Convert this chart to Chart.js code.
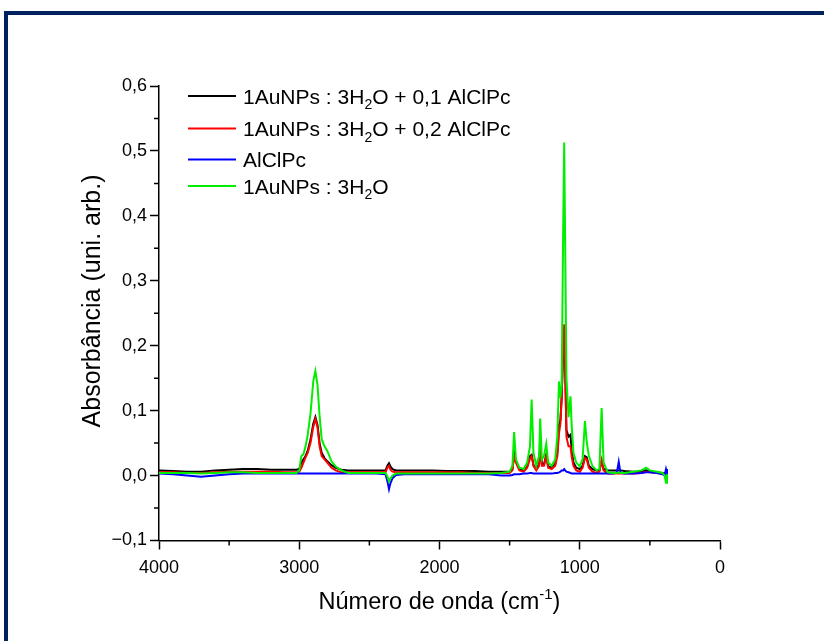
<!DOCTYPE html>
<html>
<head>
  <meta charset="utf-8" />
  <title>Espectro FTIR - AuNPs e AlClPc</title>
  <style>
    body {
      margin: 0;
      background: #fff;
    }
    #wrap {
      position: relative;
      width: 824px;
      height: 641px;
      overflow: hidden;
    }
    #frame {
      position: absolute;
      left: 4px;
      top: 11px;
      width: 900px;
      height: 700px;
      border-top: 4px solid #002060;
      border-left: 4px solid #002060;
    }
    #chart {
      position: absolute;
      left: 0;
      top: 0;
    }
  </style>
</head>
<body>
  <div id="wrap">
    <div id="frame"></div>
    <canvas id="chart" width="824" height="641"></canvas>
  </div>

  <script src="https://cdn.jsdelivr.net/npm/chart.js"></script>
  <script>
    const FONT = '"Liberation Sans", Arial, sans-serif';

    // wavenumber grid (cm-1), shared by all four spectra
    const waveNumber = [
      4000, 3900, 3800, 3700, 3600, 3500, 3400, 3300, 3200, 3100,
      3020, 3000, 2985, 2970, 2955, 2940, 2920, 2900, 2885, 2870,
      2855, 2840, 2820, 2800, 2770, 2740, 2700, 2650, 2550, 2450,
      2385, 2370, 2360, 2350, 2335, 2310, 2250, 2150, 2050, 1950,
      1850, 1750, 1650, 1560, 1500, 1480, 1468, 1455, 1430, 1400,
      1375, 1355, 1343, 1330, 1310, 1290, 1282, 1270, 1255, 1239,
      1225, 1200, 1175, 1160, 1148, 1138, 1129, 1118, 1111, 1104,
      1095, 1080, 1066, 1058, 1045, 1025, 1000, 980, 963, 950,
      935, 910, 880, 860, 844, 830, 800, 760, 735, 722,
      710, 680, 620, 560, 527, 500, 450, 410, 395, 385,
      378
    ];

    // 1AuNPs : 3H2O + 0,1 AlClPc
    const absBlack = [
      0.008, 0.007, 0.006, 0.006, 0.008, 0.009, 0.010, 0.010, 0.009, 0.009,
      0.009, 0.010, 0.020, 0.025, 0.030, 0.038, 0.055, 0.080, 0.090, 0.078,
      0.050, 0.035, 0.027, 0.022, 0.016, 0.012, 0.009, 0.008, 0.008, 0.008,
      0.008, 0.016, 0.019, 0.014, 0.010, 0.008, 0.008, 0.008, 0.008, 0.007,
      0.007, 0.007, 0.006, 0.006, 0.006, 0.010, 0.035, 0.022, 0.010, 0.008,
      0.014, 0.030, 0.032, 0.016, 0.010, 0.018, 0.045, 0.018, 0.017, 0.032,
      0.014, 0.012, 0.018, 0.035, 0.078, 0.085, 0.120, 0.195, 0.225, 0.165,
      0.070, 0.060, 0.063, 0.040, 0.020, 0.012, 0.010, 0.015, 0.030, 0.028,
      0.015, 0.010, 0.008, 0.008, 0.022, 0.010, 0.008, 0.008, 0.008, 0.008,
      0.008, 0.007, 0.006, 0.006, 0.008, 0.006, 0.005, 0.004, 0.004, 0.003,
      0.003
    ];

    // 1AuNPs : 3H2O + 0,2 AlClPc
    const absRed = [
      0.005, 0.005, 0.004, 0.004, 0.005, 0.006, 0.006, 0.006, 0.006, 0.005,
      0.005, 0.006, 0.012, 0.020, 0.028, 0.035, 0.050, 0.075, 0.087, 0.075,
      0.045, 0.030, 0.025, 0.020, 0.012, 0.008, 0.005, 0.005, 0.005, 0.005,
      0.005, 0.013, 0.015, 0.009, 0.006, 0.005, 0.005, 0.005, 0.005, 0.005,
      0.005, 0.004, 0.004, 0.004, 0.004, 0.008, 0.030, 0.020, 0.008, 0.006,
      0.012, 0.026, 0.030, 0.015, 0.008, 0.015, 0.045, 0.015, 0.015, 0.030,
      0.012, 0.010, 0.015, 0.030, 0.065, 0.080, 0.120, 0.200, 0.233, 0.170,
      0.060, 0.045, 0.045, 0.030, 0.015, 0.008, 0.006, 0.012, 0.027, 0.025,
      0.012, 0.006, 0.004, 0.006, 0.024, 0.008, 0.003, 0.003, 0.003, 0.003,
      0.003, 0.003, 0.003, 0.004, 0.006, 0.005, 0.004, 0.003, 0.003, 0.003,
      0.003
    ];

    // AlClPc
    const absBlue = [
      0.003, 0.002, 0.000, -0.002, 0.000, 0.002, 0.003, 0.003, 0.003, 0.003,
      0.003, 0.003, 0.003, 0.003, 0.003, 0.003, 0.003, 0.003, 0.003, 0.003,
      0.003, 0.003, 0.003, 0.003, 0.003, 0.003, 0.003, 0.003, 0.003, 0.003,
      0.002, -0.010, -0.021, -0.012, -0.004, 0.001, 0.002, 0.002, 0.002, 0.002,
      0.002, 0.002, 0.002, 0.000, 0.000, 0.001, 0.002, 0.002, 0.002, 0.003,
      0.003, 0.004, 0.004, 0.003, 0.003, 0.003, 0.003, 0.003, 0.003, 0.003,
      0.003, 0.003, 0.004, 0.004, 0.005, 0.006, 0.008, 0.008, 0.010, 0.008,
      0.006, 0.005, 0.004, 0.003, 0.003, 0.003, 0.003, 0.003, 0.003, 0.003,
      0.003, 0.003, 0.003, 0.003, 0.003, 0.003, 0.003, 0.003, 0.005, 0.021,
      0.004, 0.003, 0.003, 0.004, 0.005, 0.005, 0.004, 0.002, 0.000, 0.010,
      0.004
    ];

    // 1AuNPs : 3H2O
    const absGreen = [
      0.004, 0.004, 0.004, 0.003, 0.004, 0.005, 0.005, 0.004, 0.004, 0.004,
      0.004, 0.008, 0.030, 0.033, 0.045, 0.062, 0.095, 0.145, 0.161, 0.140,
      0.092, 0.056, 0.045, 0.038, 0.022, 0.014, 0.008, 0.004, 0.004, 0.004,
      0.004, -0.002, -0.009, -0.005, 0.000, 0.003, 0.003, 0.003, 0.003, 0.003,
      0.003, 0.003, 0.003, 0.004, 0.006, 0.015, 0.067, 0.025, 0.012, 0.010,
      0.020, 0.045, 0.117, 0.035, 0.015, 0.030, 0.088, 0.025, 0.030, 0.049,
      0.020, 0.015, 0.025, 0.060, 0.145, 0.120, 0.140, 0.380, 0.513, 0.360,
      0.150, 0.090, 0.122, 0.080, 0.035, 0.020, 0.014, 0.025, 0.084, 0.052,
      0.030, 0.015, 0.008, 0.010, 0.104, 0.020, 0.005, 0.004, 0.004, 0.005,
      0.004, 0.004, 0.006, 0.008, 0.012, 0.008, 0.006, 0.004, 0.000, -0.011,
      0.002
    ];

    const seriesNames = [
      '1AuNPs : 3H\u2082O + 0,1 AlClPc',
      '1AuNPs : 3H\u2082O + 0,2 AlClPc',
      'AlClPc',
      '1AuNPs : 3H\u2082O'
    ];
    // same names split into normal / subscript parts for the legend
    const legendParts = [
      [['1AuNPs : 3H', 'n'], ['2', 'sub'], ['O + 0,1 AlClPc', 'n']],
      [['1AuNPs : 3H', 'n'], ['2', 'sub'], ['O + 0,2 AlClPc', 'n']],
      [['AlClPc', 'n']],
      [['1AuNPs : 3H', 'n'], ['2', 'sub'], ['O', 'n']]
    ];
    const seriesColors = ['#000000', '#ff0000', '#0000ff', '#00ee00'];
    const seriesValues = [absBlack, absRed, absBlue, absGreen];

    const xTitle = [['Número de onda (cm', 'n'], ['-1', 'sup'], [')', 'n']];
    const yTitle = 'Absorbância (uni. arb.)';
    const xMinorTicks = [3500, 2500, 1500, 500];
    const yMinorTicks = [-0.05, 0.05, 0.15, 0.25, 0.35, 0.45, 0.55];

    function drawRich(ctx, parts, x, y, size, align) {
      const small = Math.round(size * 0.65);
      let total = 0;
      parts.forEach(p => {
        ctx.font = (p[1] === 'n' ? size : small) + 'px ' + FONT;
        total += ctx.measureText(p[0]).width;
      });
      let cx = align === 'center' ? x - total / 2 : x;
      ctx.textAlign = 'left';
      ctx.textBaseline = 'alphabetic';
      parts.forEach(p => {
        ctx.font = (p[1] === 'n' ? size : small) + 'px ' + FONT;
        let dy = 0;
        if (p[1] === 'sub') dy = size * 0.28;
        if (p[1] === 'sup') dy = -size * 0.42;
        ctx.fillText(p[0], cx, y + dy);
        cx += ctx.measureText(p[0]).width;
      });
    }

    // minor ticks, axis titles and the inset legend
    const extras = {
      id: 'extras',
      afterDraw(chart) {
        const ctx = chart.ctx;
        const xs = chart.scales.x;
        const ys = chart.scales.y;
        const area = chart.chartArea;
        ctx.save();
        ctx.strokeStyle = '#000';
        ctx.lineWidth = 1.5;
        ctx.beginPath();
        xMinorTicks.forEach(v => {
          const px = xs.getPixelForValue(v);
          ctx.moveTo(px, area.bottom);
          ctx.lineTo(px, area.bottom + 5);
        });
        yMinorTicks.forEach(v => {
          const py = ys.getPixelForValue(v);
          ctx.moveTo(area.left, py);
          ctx.lineTo(area.left - 5, py);
        });
        ctx.stroke();

        ctx.fillStyle = '#000';
        drawRich(ctx, xTitle, (area.left + area.right) / 2, 609, 23.5, 'center');

        ctx.save();
        ctx.translate(93, 301);
        ctx.rotate(-Math.PI / 2);
        ctx.font = '25px ' + FONT;
        ctx.textAlign = 'center';
        ctx.textBaseline = 'middle';
        ctx.fillText(yTitle, 0, 0);
        ctx.restore();

        const rowsY = [96, 128.5, 159.5, 186];
        legendParts.forEach((parts, i) => {
          ctx.strokeStyle = seriesColors[i];
          ctx.lineWidth = 2;
          ctx.beginPath();
          ctx.moveTo(188, rowsY[i]);
          ctx.lineTo(236, rowsY[i]);
          ctx.stroke();
          ctx.fillStyle = '#000';
          drawRich(ctx, parts, 243, rowsY[i] + 7.5, 21, 'left');
        });
        ctx.restore();
      }
    };

    const datasets = seriesValues.map((vals, i) => ({
      label: seriesNames[i],
      data: waveNumber.map((w, j) => ({ x: w, y: vals[j] })),
      borderColor: seriesColors[i],
      borderWidth: 2,
      pointRadius: 0,
      tension: 0,
      order: 4 - i
    }));

    const axisGrid = {
      drawOnChartArea: false,
      drawTicks: true,
      tickLength: 9,
      tickColor: '#000',
      tickWidth: 1.5
    };
    const axisBorder = { display: true, color: '#000', width: 1.5 };

    new Chart(document.getElementById('chart'), {
      type: 'line',
      data: { datasets },
      options: {
        responsive: false,
        animation: false,
        layout: { padding: { left: 0, top: 86, right: 104, bottom: 0 } },
        plugins: {
          legend: { display: false },
          tooltip: { enabled: false }
        },
        scales: {
          x: {
            type: 'linear',
            reverse: true,
            min: 0,
            max: 4000,
            ticks: {
              stepSize: 1000,
              maxRotation: 0,
              padding: 8,
              color: '#000',
              font: { size: 18, family: FONT },
              callback: v => String(Math.round(v))
            },
            grid: axisGrid,
            border: axisBorder,
            afterFit: s => { s.height = 100.5; }
          },
          y: {
            min: -0.1,
            max: 0.6,
            ticks: {
              stepSize: 0.1,
              padding: 3,
              color: '#000',
              font: { size: 18, family: FONT },
              callback: v => {
                const r = Math.round(v * 10) / 10;
                return (r < 0 ? '\u2212' : '') + Math.abs(r).toFixed(1).replace('.', ',');
              }
            },
            grid: axisGrid,
            border: axisBorder,
            afterFit: s => { s.width = 159; }
          }
        }
      },
      plugins: [extras]
    });
  </script>
</body>
</html>
